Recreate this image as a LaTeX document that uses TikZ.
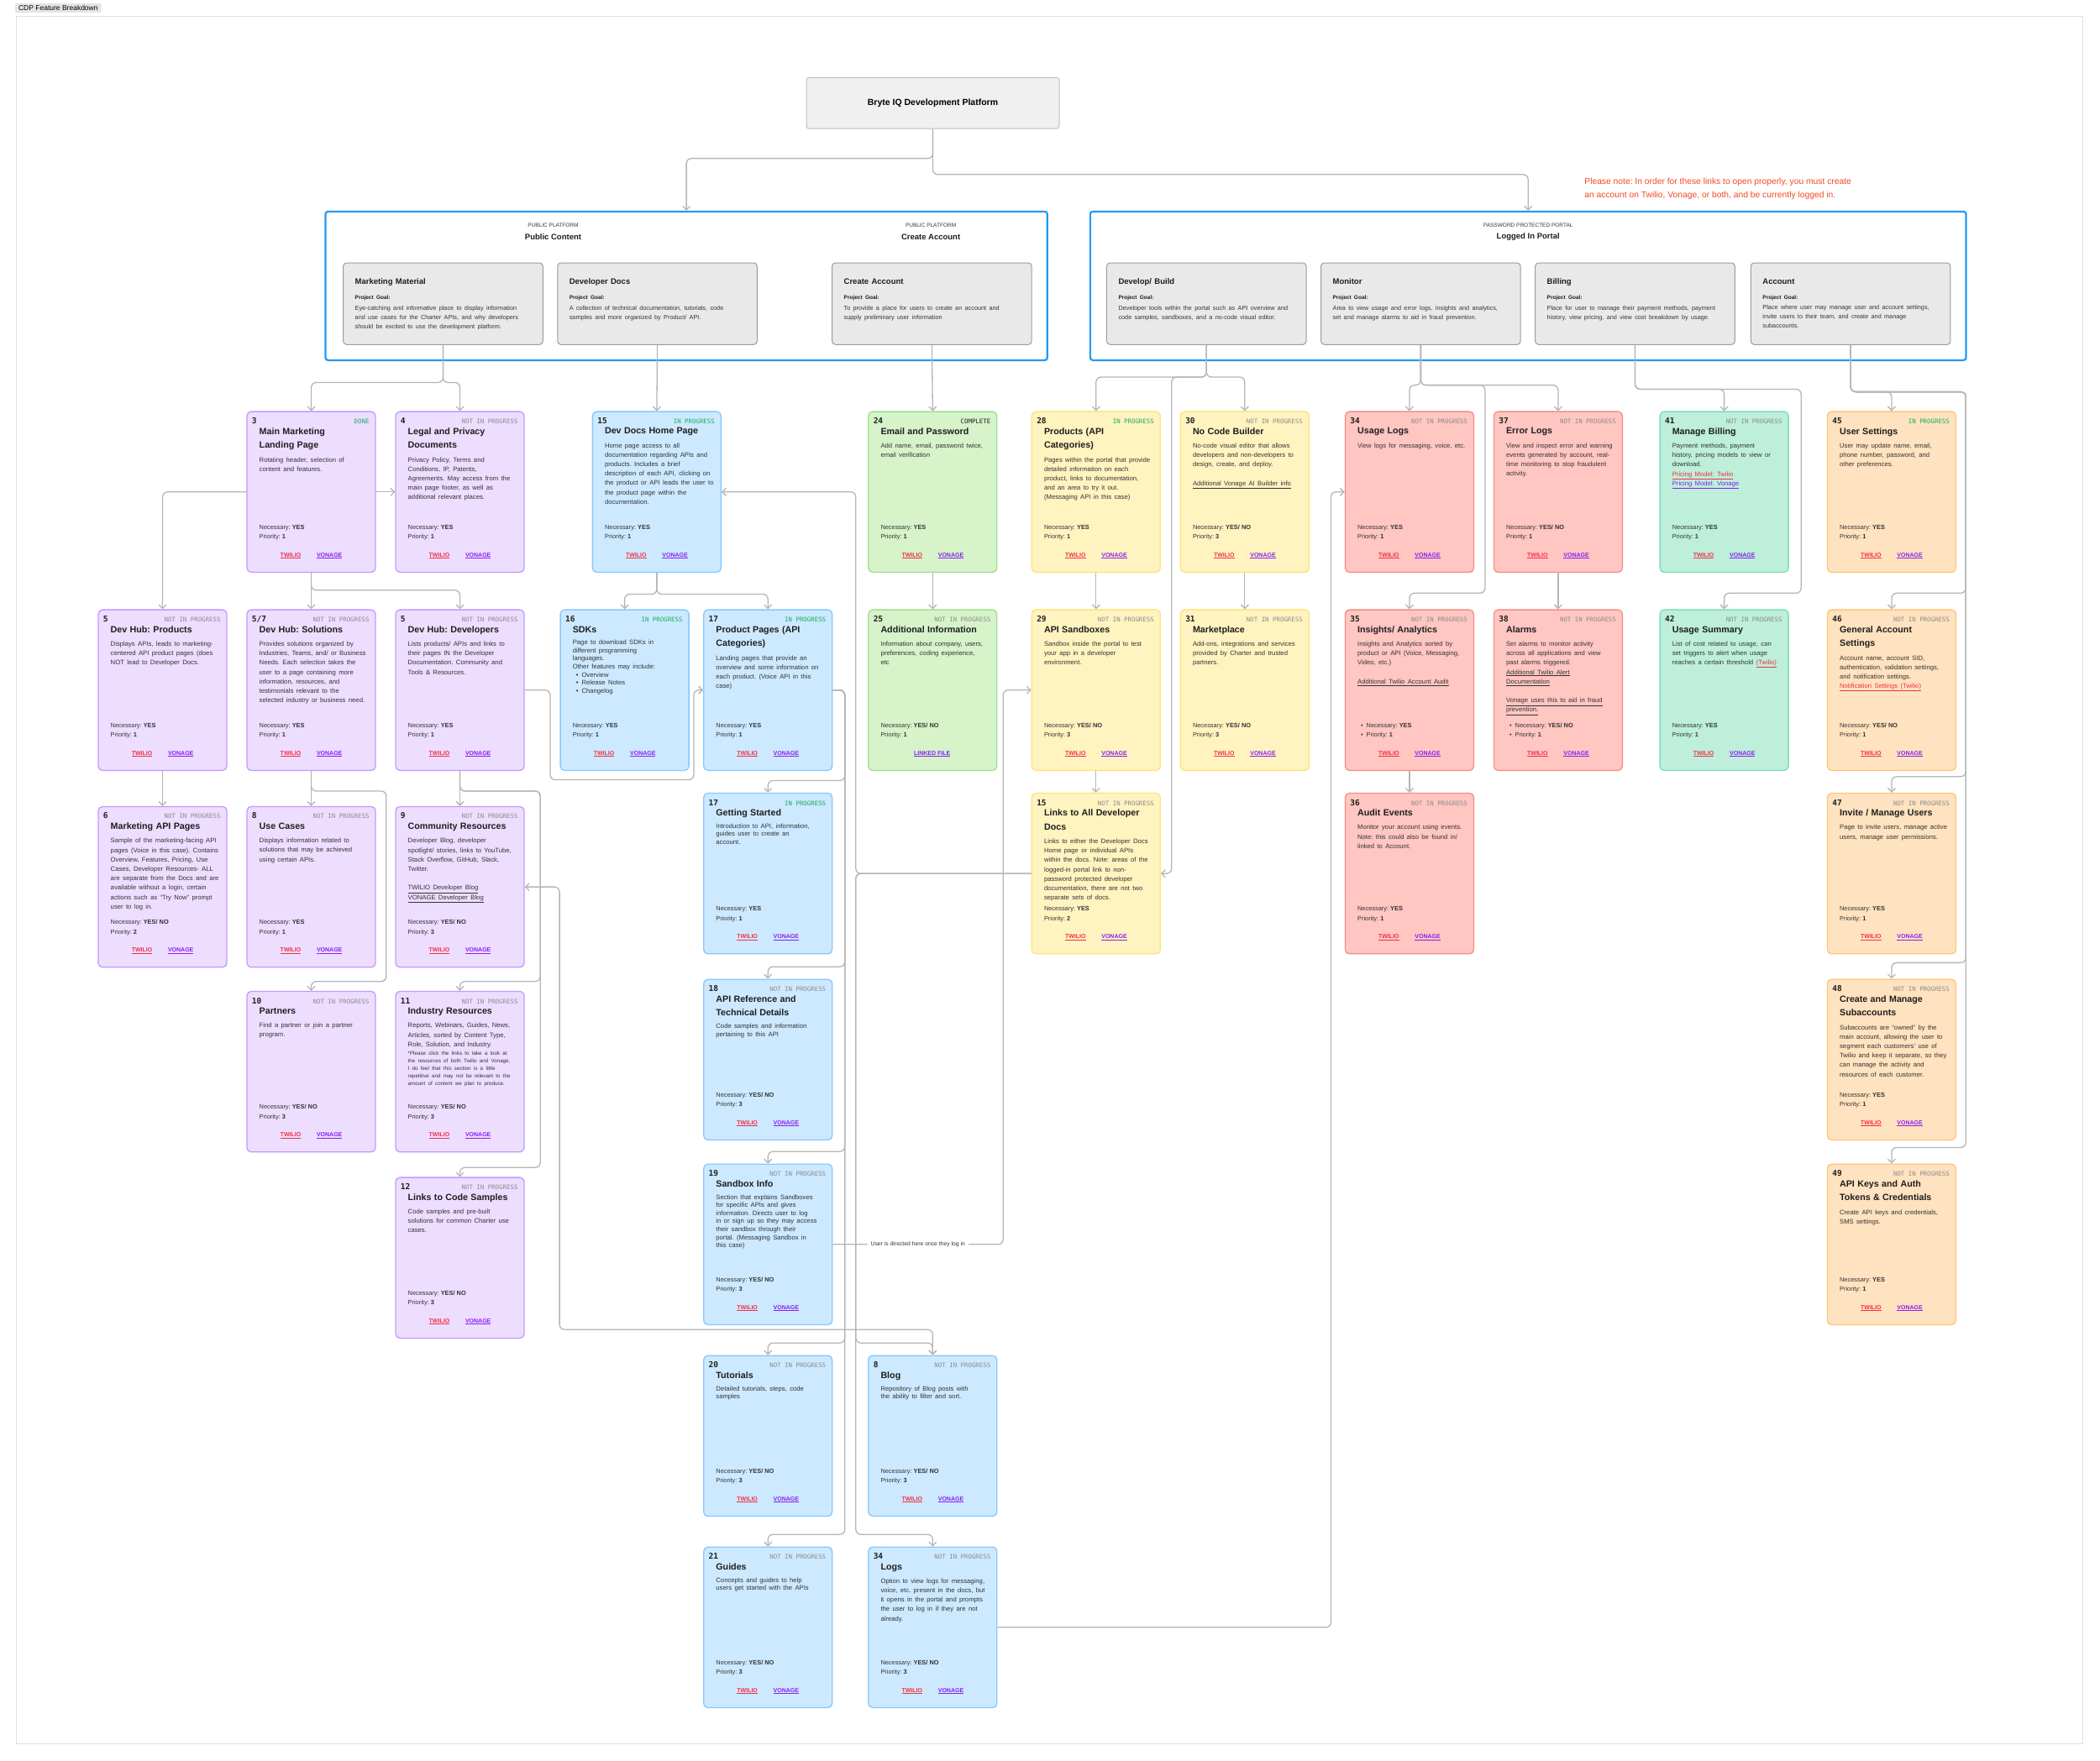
\documentclass[tikz,border=0pt]{standalone}
\usepackage{fontspec}
\setmainfont{Liberation Sans}
\setmonofont{DejaVu Sans Mono}
\usepackage{tikz}
\usetikzlibrary{arrows.meta, positioning, calc, fit}
\frenchspacing

\definecolor{wiregray}{HTML}{B5B5B5}
\definecolor{zoneblue}{HTML}{1E9BF5}
\definecolor{lilacfill}{HTML}{EDDDFF}  \definecolor{lilacline}{HTML}{C299FF}
\definecolor{skyfill}{HTML}{CDE9FF}    \definecolor{skyline}{HTML}{86C8FF}
\definecolor{mintfill}{HTML}{D6F3CA}   \definecolor{mintline}{HTML}{A2DF8C}
\definecolor{butterfill}{HTML}{FFF3C0} \definecolor{butterline}{HTML}{FFE273}
\definecolor{coralfill}{HTML}{FFC6C2}  \definecolor{coralline}{HTML}{F58D84}
\definecolor{jadefill}{HTML}{BDEFDA}   \definecolor{jadeline}{HTML}{7CDFB6}
\definecolor{peachfill}{HTML}{FFE2BF}  \definecolor{peachline}{HTML}{FFC572}
\definecolor{goalfill}{HTML}{E9E9E9}   \definecolor{goalline}{HTML}{9C9C9C}
\definecolor{twred}{HTML}{F22F46}
\definecolor{vgviolet}{HTML}{8A1FF0}
\definecolor{okgreen}{HTML}{1AAE62}
\definecolor{idlegray}{HTML}{8C8C8C}
\definecolor{ink}{HTML}{1E1E1E}
\definecolor{bodyink}{HTML}{333333}
\definecolor{noteorange}{HTML}{F24822}

% fonts
\newcommand{\cardhead}{\fontsize{10.7}{16.5}\selectfont\bfseries}
\newcommand{\cardbody}{\fontsize{7.7}{11.2}\selectfont\color{bodyink}}
\newcommand{\snug}{\fontsize{7.7}{9.6}\selectfont}
\newcommand{\goalhead}{\fontsize{9.5}{12}\selectfont\bfseries}
\newcommand{\goalsub}{\fontsize{6.5}{12.7}\selectfont\bfseries}
\newcommand{\goalbody}{\fontsize{7.3}{11}\selectfont\color{bodyink}}
\newcommand{\lnk}[2][bodyink]{{\color{#1}\underline{#2}}}

\tikzset{>={Straight Barb[length=4.5pt,width=9pt]}}
\tikzset{
  sheet/.style={draw=black!12, line width=0.8pt, inner sep=0pt},
  tab/.style={fill=black!10, rounded corners=1.5pt, font=\fontsize{8.5}{10}\selectfont,
    inner xsep=4pt, inner ysep=2.5pt},
  headbox/.style={draw=black!25, fill=black!6, line width=1pt, rounded corners=3pt,
    minimum width=301pt, minimum height=60.6pt, font=\fontsize{10.5}{12}\selectfont\bfseries},
  zone/.style={draw=zoneblue, line width=2.2pt, rounded corners=3pt, inner sep=0pt},
  zonecap/.style={font=\fontsize{6.5}{8}\selectfont, text=bodyink, inner sep=0pt},
  zonetitle/.style={font=\fontsize{9.5}{12}\selectfont\bfseries, text=ink, inner sep=0pt},
  notetext/.style={font=\fontsize{10.3}{16}\selectfont, text=noteorange, align=left,
    anchor=north west, inner sep=0pt},
  goalbox/.style={draw=goalline, fill=goalfill, line width=1pt, rounded corners=4pt,
    minimum width=237.6pt, minimum height=97.3pt, anchor=north west, inner sep=0pt},
  goaltext/.style={anchor=north west, inner sep=0pt, text width=226pt, align=left, text=ink},
  card/.style={draw=#1line, fill=#1fill, line width=1.3pt, rounded corners=5pt,
    minimum width=153pt, minimum height=191.3pt, inner sep=0pt, anchor=north west},
  cardnum/.style={font=\fontsize{9.5}{12}\selectfont\ttfamily\bfseries, text=ink,
    anchor=base west, inner sep=0pt},
  stat/.style={font=\fontsize{7.4}{9}\selectfont\ttfamily, anchor=base east, inner sep=0pt},
  stdone/.style={stat, text=okgreen},
  stgo/.style={stat, text=okgreen},
  stidle/.style={stat, text=idlegray},
  stfin/.style={stat, text=ink},
  cardtext/.style={anchor=north west, inner sep=0pt, text width=146pt, align=left, text=ink},
  needtext/.style={font=\fontsize{7.4}{9}\selectfont, text=bodyink, anchor=base west, inner sep=0pt},
  twlink/.style={font=\fontsize{7}{9}\selectfont\bfseries, text=twred, inner sep=0pt},
  vglink/.style={font=\fontsize{7}{9}\selectfont\bfseries, text=vgviolet, inner sep=0pt},
  flowline/.style={draw=wiregray, line width=1.3pt, rounded corners=6pt, ->},
  flowtag/.style={fill=white, font=\fontsize{6.8}{8}\selectfont, text=bodyink, inner xsep=4pt},
}

% grey goal box: name, top-left, title, text
\newcommand{\goal}[4]{%
  \node[goalbox] (#1) at (#2) {};
  \node[goaltext] (#1t) at ([shift={(9,11.8)}]#1.north west)
    {{\goalhead #3\par}\vspace{5.6pt}{\goalsub Project Goal:\par}\vspace{1.6pt}{\goalbody #4\par}};
}
% feature card: name, top-left, palette, number, status style, status, title, text
\newcommand{\card}[8]{%
  \node[card=#3] (#1) at (#2) {};
  \node[cardnum] (#1n) at ([shift={(4,9.5)}]#1.north west) {#4};
  \node[#5] (#1s) at ([shift={(-5,9.5)}]#1.north east) {#6};
  \node[cardtext] (#1t) at ([shift={(9.5,12.5)}]#1.north west)
    {{\cardhead #7\par}\vspace{5pt}{\cardbody #8\par}};
}
\newcommand{\needs}[3]{%
  \node[needtext] (#1a) at ([shift={(9.5,88.5)}]#1.north west) {Necessary: \textbf{#2}};
  \node[needtext] (#1p) at ([shift={(9.5,95.5)}]#1.north west) {Priority: \textbf{#3}};
}
\newcommand{\bneeds}[3]{%
  \node[needtext] (#1a) at ([shift={(12,88.5)}]#1.north west) {•\hspace{4pt}Necessary: \textbf{#2}};
  \node[needtext] (#1p) at ([shift={(12,95.5)}]#1.north west) {•\hspace{4pt}Priority: \textbf{#3}};
}
\newcommand{\links}[1]{%
  \node[twlink] (#1tw) at ([shift={(33,108)}]#1.north west) {\underline{TWILIO}};
  \node[vglink] (#1vg) at ([shift={(62,108)}]#1.north west) {\underline{VONAGE}};
}
\newcommand{\foot}[3]{\needs{#1}{#2}{#3}\links{#1}}

\begin{document}
\begin{tikzpicture}[x=1.5944pt, y=-1.5944pt]
\useasboundingbox (0,0) rectangle (1568,1315);

% sheet and title
\node[sheet, fit={(12,12) (1555,1302)}] (frame) {};
\node[tab] (tabname) at (43.5,6) {CDP Feature Breakdown};
\node[headbox] (head) at (696.5,77) {Bryte IQ Development Platform};

% zones
\node[zone, minimum width=859.4pt, minimum height=177pt] (pub) at (512.5,213.5) {};
\node[zone, minimum width=1042.7pt, minimum height=177pt] (portal) at (1141,213.5) {};
\node[zonecap] (pubcap) at (413,168) {PUBLIC PLATFORM};
\node[zonetitle] (pubtitle) at (413,177) {Public Content};
\node[zonecap] (acccap) at (695,168) {PUBLIC PLATFORM};
\node[zonetitle] (acctitle) at (695,177) {Create Account};
\node[zonecap] (portcap) at (1141,168) {PASSWORD PROTECTED PORTAL};
\node[zonetitle] (porttitle) at (1141,177) {Logged In Portal};
\node[notetext] (note) at (1183,133) {Please note: In order for these links to open properly, you must create\\an account on Twilio, Vonage, or both, and be currently logged in.};

\goal{mm}{256,196}{Marketing Material}{Eye-catching and informative place to display information\\and use cases for the Charter APIs, and why developers\\should be excited to use the development platform.}
\goal{dd}{416,196}{Developer Docs}{A collection of technical documentation, tutorials, code\\samples and more organized by Product/ API.}
\goal{ca}{621,196}{Create Account}{To provide a place for users to create an account and\\supply preliminary user information}
\goal{db}{826,196}{Develop/ Build}{Developer tools within the portal such as API overview and\\code samples, sandboxes, and a no-code visual editor.}
\goal{mon}{986,196}{Monitor}{Area to view usage and error logs, insights and analytics,\\set and manage alarms to aid in fraud prevention.}
\goal{bill}{1146,196}{Billing}{Place for user to manage their payment methods, payment\\history, view pricing, and view cost breakdown by usage.}
\goal{acct}{1307,196}{Account}{Place where user may manage user and account settings,\\invite users to their team, and create and manage\\subaccounts.}

% row 1
\card{c3}{184,307}{lilac}{3}{stdone}{DONE}{Main Marketing\\Landing Page}{Rotating header, selection of\\content and features.}
\foot{c3}{YES}{1}
\card{c4}{295,307}{lilac}{4}{stidle}{NOT IN PROGRESS}{Legal and Privacy\\Documents}{Privacy Policy, Terms and\\Conditions, IP, Patents,\\Agreements. May access from the\\main page footer, as well as\\additional relevant places.}
\foot{c4}{YES}{1}
\card{c15}{442,307}{sky}{15}{stgo}{IN PROGRESS}{Dev Docs Home Page}{Home page access to all\\documentation regarding APIs and\\products. Includes a brief\\description of each API, clicking on\\the product or API leads the user to\\the product page within the\\documentation.}
\foot{c15}{YES}{1}
\card{c24}{648,307}{mint}{24}{stfin}{COMPLETE}{Email and Password}{Add name, email, password twice,\\email verification}
\foot{c24}{YES}{1}
\card{c28}{770,307}{butter}{28}{stgo}{IN PROGRESS}{Products (API\\Categories)}{Pages within the portal that provide\\detailed information on each\\product, links to documentation,\\and an area to try it out.\\(Messaging API in this case)}
\foot{c28}{YES}{1}
\card{c30}{881,307}{butter}{30}{stidle}{NOT IN PROGRESS}{No Code Builder}{No-code visual editor that allows\\developers and non-developers to\\design, create, and deploy.\\[11.2pt]\lnk{Additional Vonage AI Builder info}}
\foot{c30}{YES/ NO}{3}
\card{c34}{1004,307}{coral}{34}{stidle}{NOT IN PROGRESS}{Usage Logs}{View logs for messaging, voice, etc.}
\foot{c34}{YES}{1}
\card{c37}{1115,307}{coral}{37}{stidle}{NOT IN PROGRESS}{Error Logs}{View and inspect error and warning\\events generated by account, real-\\time monitoring to stop fraudulent\\activity.}
\foot{c37}{YES/ NO}{1}
\card{c41}{1239,307}{jade}{41}{stidle}{NOT IN PROGRESS}{Manage Billing}{Payment methods, payment\\history, pricing models to view or\\download.\\\lnk[twred]{Pricing Model: Twilio}\\\lnk[vgviolet]{Pricing Model: Vonage}}
\foot{c41}{YES}{1}
\card{c45}{1364,307}{peach}{45}{stgo}{IN PROGRESS}{User Settings}{User may update name, email,\\phone number, password, and\\other preferences.}
\foot{c45}{YES}{1}

% row 2
\card{c5a}{73,455}{lilac}{5}{stidle}{NOT IN PROGRESS}{Dev Hub: Products}{Displays APIs, leads to marketing-\\centered API product pages (does\\NOT lead to Developer Docs.}
\foot{c5a}{YES}{1}
\card{c57}{184,455}{lilac}{5/7}{stidle}{NOT IN PROGRESS}{Dev Hub: Solutions}{Provides solutions organized by\\Industries, Teams, and/ or Business\\Needs. Each selection takes the\\user to a page containing more\\information, resources, and\\testimonials relevant to the\\selected industry or business need.}
\foot{c57}{YES}{1}
\card{c5b}{295,455}{lilac}{5}{stidle}{NOT IN PROGRESS}{Dev Hub: Developers}{Lists products/ APIs and links to\\their pages IN the Developer\\Documentation. Community and\\Tools \& Resources.}
\foot{c5b}{YES}{1}
\card{c16}{418,455}{sky}{16}{stgo}{IN PROGRESS}{SDKs}{\snug Page to download SDKs in\\different programming\\languages.\\Other features may include:\\\hspace*{4pt}•\hspace{4pt}Overview\\\hspace*{4pt}•\hspace{4pt}Release Notes\\\hspace*{4pt}•\hspace{4pt}Changelog}
\foot{c16}{YES}{1}
\card{c17a}{525,455}{sky}{17}{stgo}{IN PROGRESS}{Product Pages (API\\Categories)}{Landing pages that provide an\\overview and some information on\\each product. (Voice API in this\\case)}
\foot{c17a}{YES}{1}
\card{c25}{648,455}{mint}{25}{stidle}{NOT IN PROGRESS}{Additional Information}{Information about company, users,\\preferences, coding experience,\\etc}
\needs{c25}{YES/ NO}{1}
\node[vglink] (c25f) at ([shift={(48,108)}]c25.north west) {\underline{LINKED FILE}};
\card{c29}{770,455}{butter}{29}{stidle}{NOT IN PROGRESS}{API Sandboxes}{Sandbox inside the portal to test\\your app in a developer\\environment.}
\foot{c29}{YES/ NO}{3}
\card{c31}{881,455}{butter}{31}{stidle}{NOT IN PROGRESS}{Marketplace}{Add-ons, integrations and services\\provided by Charter and trusted\\partners.}
\foot{c31}{YES/ NO}{3}
\card{c35}{1004,455}{coral}{35}{stidle}{NOT IN PROGRESS}{Insights/ Analytics}{Insights and Analytics sorted by\\product or API (Voice, Messaging,\\Video, etc.)\\[11.2pt]\lnk{Additional Twilio Account Audit}}
\bneeds{c35}{YES}{1}\links{c35}
\card{c38}{1115,455}{coral}{38}{stidle}{NOT IN PROGRESS}{Alarms}{Set alarms to monitor activity\\across all applications and view\\past alarms triggered.\\\lnk{Additional Twilio Alert}\\\lnk{Documentation}\\[11.2pt]\lnk{Vonage uses this to aid in fraud}\\\lnk{prevention.}}
\bneeds{c38}{YES/ NO}{1}\links{c38}
\card{c42}{1239,455}{jade}{42}{stidle}{NOT IN PROGRESS}{Usage Summary}{List of cost related to usage, can\\set triggers to alert when usage\\reaches a certain threshold \lnk[twred]{(Twilio)}}
\foot{c42}{YES}{1}
\card{c46}{1364,455}{peach}{46}{stidle}{NOT IN PROGRESS}{General Account\\Settings}{Account name, account SID,\\authentication, validation settings,\\and notification settings.\\\lnk[twred]{Notification Settings (Twilio)}}
\foot{c46}{YES/ NO}{1}

% marketing branch, lower rows
\card{c6}{73,602}{lilac}{6}{stidle}{NOT IN PROGRESS}{Marketing API Pages}{Sample of the marketing-facing API\\pages (Voice in this case). Contains\\Overview, Features, Pricing, Use\\Cases, Developer Resources- ALL\\are separate from the Docs and are\\available without a login, certain\\actions such as “Try Now” prompt\\user to log in.}
\foot{c6}{YES/ NO}{2}
\card{c8a}{184,602}{lilac}{8}{stidle}{NOT IN PROGRESS}{Use Cases}{Displays information related to\\solutions that may be achieved\\using certain APIs.}
\foot{c8a}{YES}{1}
\card{c9}{295,602}{lilac}{9}{stidle}{NOT IN PROGRESS}{Community Resources}{Developer Blog, developer\\spotlight/ stories, links to YouTube,\\Stack Overflow, GitHub, Slack,\\Twitter.\\[11.2pt]\lnk{TWILIO Developer Blog}\\\lnk{VONAGE Developer Blog}}
\foot{c9}{YES/ NO}{3}
\card{c10}{184,740}{lilac}{10}{stidle}{NOT IN PROGRESS}{Partners}{Find a partner or join a partner\\program.}
\foot{c10}{YES/ NO}{3}
\card{c11}{295,740}{lilac}{11}{stidle}{NOT IN PROGRESS}{Industry Resources}{Reports, Webinars, Guides, News,\\Articles, sorted by Content Type,\\Role, Solution, and Industry.\par\vspace{1.5pt}{\fontsize{6.2}{9}\selectfont *Please click the links to take a look at\\the resources of both Twilio and Vonage,\\I do feel that this section is a little\\repetitive and may not be relevant to the\\amount of content we plan to produce.\par}}
\foot{c11}{YES/ NO}{3}
\card{c12}{295,879}{lilac}{12}{stidle}{NOT IN PROGRESS}{Links to Code Samples}{Code samples and pre-built\\solutions for common Charter use\\cases.}
\foot{c12}{YES/ NO}{3}

% docs and portal, lower rows
\card{c17b}{525,592}{sky}{17}{stgo}{IN PROGRESS}{Getting Started}{\snug Introduction to API, information,\\guides user to create an\\account.}
\foot{c17b}{YES}{1}
\card{c15b}{770,592}{butter}{15}{stidle}{NOT IN PROGRESS}{Links to All Developer\\Docs}{Links to either the Developer Docs\\Home page or individual APIs\\within the docs. Note: areas of the\\logged-in portal link to non-\\password protected developer\\documentation, there are not two\\separate sets of docs.}
\foot{c15b}{YES}{2}
\card{c36}{1004,592}{coral}{36}{stidle}{NOT IN PROGRESS}{Audit Events}{Monitor your account using events.\\Note: this could also be found in/\\linked to Account.}
\foot{c36}{YES}{1}
\card{c47}{1364,592}{peach}{47}{stidle}{NOT IN PROGRESS}{Invite / Manage Users}{Page to invite users, manage active\\users, manage user permissions.}
\foot{c47}{YES}{1}
\card{c18}{525,731}{sky}{18}{stidle}{NOT IN PROGRESS}{API Reference and\\Technical Details}{\snug Code samples and information\\pertaining to this API}
\foot{c18}{YES/ NO}{3}
\card{c48}{1364,731}{peach}{48}{stidle}{NOT IN PROGRESS}{Create and Manage\\Subaccounts}{Subaccounts are “owned” by the\\main account, allowing the user to\\segment each customers' use of\\Twilio and keep it separate, so they\\can manage the activity and\\resources of each customer.}
\foot{c48}{YES}{1}
\card{c19}{525,869}{sky}{19}{stidle}{NOT IN PROGRESS}{Sandbox Info}{\snug Section that explains Sandboxes\\for specific APIs and gives\\information. Directs user to log\\in or sign up so they may access\\their sandbox through their\\portal. (Messaging Sandbox in\\this case)}
\foot{c19}{YES/ NO}{3}
\card{c49}{1364,869}{peach}{49}{stidle}{NOT IN PROGRESS}{API Keys and Auth\\Tokens \& Credentials}{Create API keys and credentials,\\SMS settings.}
\foot{c49}{YES}{1}
\card{c20}{525,1012}{sky}{20}{stidle}{NOT IN PROGRESS}{Tutorials}{\snug Detailed tutorials, steps, code\\samples}
\foot{c20}{YES/ NO}{3}
\card{c8b}{648,1012}{sky}{8}{stidle}{NOT IN PROGRESS}{Blog}{\snug Repository of Blog posts with\\the ability to filter and sort.}
\foot{c8b}{YES/ NO}{3}
\card{c21}{525,1155}{sky}{21}{stidle}{NOT IN PROGRESS}{Guides}{\snug Concepts and guides to help\\users get started with the APIs}
\foot{c21}{YES/ NO}{3}
\card{c34b}{648,1155}{sky}{34}{stidle}{NOT IN PROGRESS}{Logs}{Option to view logs for messaging,\\voice, etc. present in the docs, but\\it opens in the portal and prompts\\the user to log in if they are not\\already.}
\foot{c34b}{YES/ NO}{3}

% connectors from the top
\draw[flowline] (head.south) -- ++(0,22) -| (pub.north);
\draw[flowline] (head.south) -- ++(0,34) -| (portal.north);
\draw[flowline] (mm.south) -- ++(0,28) -| (c3.north);
\draw[flowline] (mm.south) -- ++(0,28) -| (c4.north);
\draw[flowline] (dd.south) -- (c15.north);
\draw[flowline] (ca.south) -- (c24.north);
\draw[flowline] (db.south) -- ++(0,24) -| (c28.north);
\draw[flowline] (db.south) -- ++(0,24) -| (c30.north);
\draw[flowline] (db.south) -- ++(0,24) -| ($(c15b.east)+(8,0)$) -- (c15b.east);
\draw[flowline] (mon.south) -- ++(0,30) -| (c34.north);
\draw[flowline] (mon.south) -- ++(0,30) -| (c37.north);
\draw[flowline] (mon.south) -- ++(0,30) -- ++(48,0) |- ($(c35.north)+(0,-12)$) -- (c35.north);
\draw[flowline] (bill.south) -- ++(0,33) -| (c41.north);
\draw[flowline] (bill.south) -- ++(0,33) -- ++(124,0) |- ($(c42.north)+(0,-12)$) -- (c42.north);
\draw[flowline] (acct.south) -- ++(0,35) -| (c45.north);
\foreach \k in {46,47,48,49}
  \draw[flowline] (acct.south) -- ++(0,35) -- ++(86,0) |- ($(c\k.north)+(0,-12)$) -- (c\k.north);

% marketing tree
\draw[flowline] (c3.west) -| (c5a.north);
\draw[flowline] (c3.east) -- (c4.west);
\draw[flowline] (c3.south) -- (c57.north);
\draw[flowline] (c3.south) -- ++(0,13) -| (c5b.north);
\draw[flowline] (c5a.south) -- (c6.north);
\draw[flowline] (c57.south) -- (c8a.north);
\draw[flowline] (c57.south) -- ++(0,15) -- ++(56,0) |- ($(c10.north)+(0,-7)$) -- (c10.north);
\draw[flowline] (c5b.south) -- (c9.north);
\foreach \k in {11,12}
  \draw[flowline] (c5b.south) -- ++(0,15) -- ++(60,0) |- ($(c\k.north)+(0,-7)$) -- (c\k.north);
\draw[flowline] (c5b.east) -- ++(19,0) -- ++(0,67) -| ($(c17a.west)+(-7,0)$) -- (c17a.west);

% docs tree
\draw[flowline] (c15.south) -- ++(0,16) -| (c16.north);
\draw[flowline] (c15.south) -- ++(0,16) -| (c17a.north);
\foreach \k in {17b,18,19,20,21}
  \draw[flowline] (c17a.east) -- ++(9,0) |- ($(c\k.north)+(0,-9)$) -- (c\k.north);
\draw[flowline] (c15b.west) -- ++(-131,0) |- (c15.east);
\foreach \k in {8b,34b}
  \draw[flowline] (c15b.west) -- ++(-131,0) |- ($(c\k.north)+(0,-9)$) -- (c\k.north);
\draw[flowline, <->] (c9.east) -- ++(26,0) |- ($(c8b.north)+(0,-19)$) -- (c8b.north);
\draw[flowline] (c34b.east) -- ++(249,0) |- (c34.west);
\draw[flowline] (c19.east) -| ($(c29.west)+(-21,0)$) node[flowtag, pos=0.25] (flowtag) {User is directed here once they log in} -- (c29.west);

% portal tree
\draw[flowline] (c24.south) -- (c25.north);
\draw[flowline] (c28.south) -- (c29.north);
\draw[flowline] (c29.south) -- (c15b.north);
\draw[flowline] (c30.south) -- (c31.north);
\draw[flowline] (c35.south) -- (c36.north);
\draw[flowline] (c37.south) -- (c38.north);
\end{tikzpicture}
\end{document}
